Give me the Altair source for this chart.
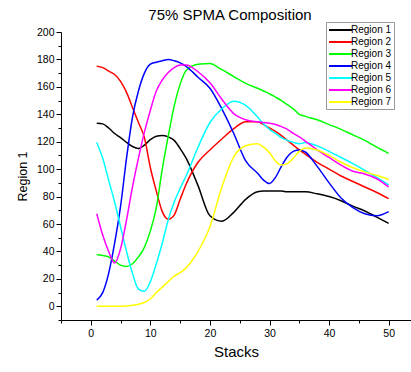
import altair as alt
import pandas as pd

stacks = [1, 2, 3, 4, 5, 6, 7, 8, 9, 10, 11, 12, 13, 14, 15, 16, 18, 20, 22, 24, 26, 28,
          29, 30, 31, 32, 33, 34, 35, 36, 38, 40, 42, 44, 46, 48, 50]

region1 = [133.5, 133, 130, 126, 123, 119.5, 116.5, 115, 117.5, 121.5, 124, 124.5, 123.5, 121, 115, 108,
           88, 66, 62, 68.5, 78, 83.5, 84, 84, 84, 84, 83.5, 83.5, 83.5, 83.5, 82, 80, 77, 73, 69.5, 65, 60.5]
region2 = [175, 174, 171.5, 169, 164, 156, 145, 134, 123, 101, 84, 69, 63.5, 66.5, 78, 89,
           105, 114, 122, 129.5, 134.5, 134.5, 132.5, 130, 127.5, 124.5, 121, 117.5, 114, 111, 105, 100, 95, 91, 87, 83, 78.5]
region3 = [37.5, 37, 36, 33, 30, 29, 31, 36, 43, 55, 72, 100, 124, 146, 162, 172,
           176.5, 177, 172.5, 167.5, 162.5, 159, 157, 155, 152.5, 150, 147, 144, 140, 138.5, 136, 132.5, 129, 125, 121, 116, 111.5]
region4 = [4.5, 10, 24, 46, 73, 108, 138, 157, 170, 176.5, 178, 179, 180, 179, 177.5, 175,
           167, 159, 144, 126, 106, 97, 92, 89.5, 94, 102, 109, 113, 114, 112.5, 102, 90, 79, 72, 67.5, 66, 69]
region5 = [119.5, 108, 92, 76, 58, 40, 24, 12.5, 11, 18, 31, 46, 63, 76, 86, 95,
           116, 134, 144, 149.5, 146.5, 138, 133, 129, 126, 123, 121, 119.5, 118.5, 119.5, 117, 113, 108.5, 104, 99, 94, 88.5]
region6 = [67.5, 52, 40, 31.5, 42, 63, 87, 108, 127, 143, 157, 165, 170.5, 174, 176, 176,
           171, 163, 151, 140.5, 136, 134.5, 134, 133.5, 132.5, 131, 129, 126, 123.5, 120.5, 114, 108.5, 103, 98.5, 96.5, 93, 87]
region7 = [0, 0, 0, 0, 0, 0.2, 0.7, 1.5, 2.8, 5.5, 10, 14, 18, 22, 24.5, 28,
           40, 58, 87, 109, 117, 118.5, 116, 112, 106, 103, 104, 108, 113, 115.5, 114, 110, 105, 101, 98, 95.5, 92.5]

regions = ["Region 1", "Region 2", "Region 3", "Region 4", "Region 5", "Region 6", "Region 7"]
colors = ["#000000", "#ff0000", "#00ff00", "#0000ff", "#00ffff", "#ff00ff", "#ffff00"]
series = [region1, region2, region3, region4, region5, region6, region7]

rows = []
for name, vals in zip(regions, series):
    for s, v in zip(stacks, vals):
        rows.append({"Stacks": s, "value": v, "region": name})
df = pd.DataFrame(rows)

FONT = "Liberation Sans"

x_ticks = list(range(-5, 56, 5))
y_ticks = list(range(-10, 201, 10))

chart = alt.Chart(df).mark_line(strokeWidth=1.5, interpolate="monotone", clip=True).encode(
    x=alt.X("Stacks:Q",
            scale=alt.Scale(domain=[-5, 53.75], nice=False, zero=False),
            axis=alt.Axis(title="Stacks", values=x_ticks,
                          labelExpr="datum.value % 10 === 0 ? datum.label : ''",
                          tickSize={"condition": {"test": "datum.value % 10 === 0", "value": 5}, "value": 3},
                          grid=False, domainColor="#000000", tickColor="#000000",
                          labelFont=FONT, labelFontSize=10.5, labelColor="#000000", labelPadding=3,
                          titleFont=FONT, titleFontSize=15, titleFontWeight="normal", titleColor="#000000",
                          titlePadding=6, labelFlush=False)),
    y=alt.Y("value:Q",
            scale=alt.Scale(domain=[-10, 200], nice=False, zero=False),
            axis=alt.Axis(title="Region 1", values=y_ticks,
                          labelExpr="datum.value % 20 === 0 ? datum.label : ''",
                          tickSize={"condition": {"test": "datum.value % 20 === 0", "value": 5}, "value": 3},
                          grid=False, domainColor="#000000", tickColor="#000000",
                          labelFont=FONT, labelFontSize=10.5, labelColor="#000000", labelPadding=2,
                          titleFont=FONT, titleFontSize=12.5, titleFontWeight="normal", titleColor="#000000",
                          titlePadding=7, labelFlush=False)),
    color=alt.Color("region:N", title=None,
                    scale=alt.Scale(domain=regions, range=colors),
                    legend=alt.Legend(orient="none", legendX=265, legendY=-10,
                                      symbolType="M-1,0H3.6", symbolSize=100, symbolStrokeWidth=2,
                                      labelFont=FONT, labelFontSize=10, labelColor="#000000",
                                      labelOffset=11, padding=2, rowPadding=1,
                                      strokeColor="#999999", fillColor="#ffffff")),
).properties(
    width=350, height=288,
    title=alt.TitleParams("75% SPMA Composition", font=FONT, fontSize=15, fontWeight="normal",
                          color="#000000", anchor="middle", offset=-1, dx=-6),
    padding={"left": 61, "top": 32, "right": 0, "bottom": 52},
    autosize=alt.AutoSizeParams(type="none"),
).configure_view(stroke="transparent")

chart.save("out.html", embed_options={"renderer": "svg", "actions": False})
